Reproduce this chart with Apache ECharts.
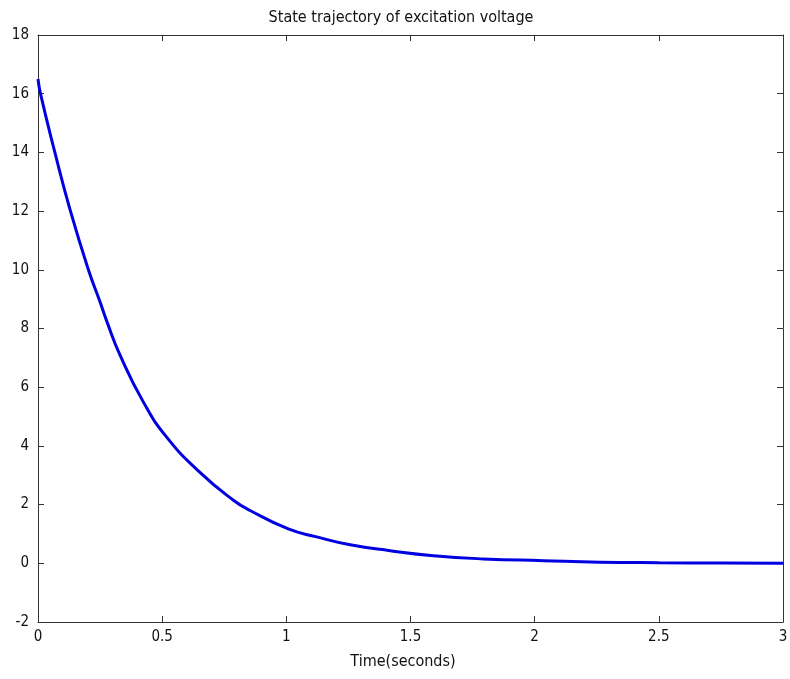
<!DOCTYPE html>
<html>
<head>
<meta charset="utf-8">
<script src="https://cdn.jsdelivr.net/npm/echarts@6/dist/echarts.min.js"></script>
<style>
  html, body { margin: 0; padding: 0; background: #fff; }
  #chart { width: 790px; height: 679px; }
</style>
</head>
<body>
<div id="chart"></div>
<script>
var titleText = 'State trajectory of excitation voltage';
var xName = 'Time(seconds)';

// time (s) and excitation voltage
var timeValues = [0, 0.01, 0.068, 0.129, 0.203, 0.25, 0.279, 0.33, 0.424, 0.518, 0.652, 0.787,
    0.854, 1.008, 1.122, 1.257, 1.418, 1.592, 1.793, 2.035, 2.263, 2.5, 2.75, 3.0];
var voltValues = [16.5, 16.0, 14.0, 12.05, 10.0, 8.9, 8.2, 7.1, 5.5, 4.3, 3.1, 2.15,
    1.8, 1.17, 0.9, 0.63, 0.43, 0.26, 0.15, 0.09, 0.04, 0.02, 0.01, 0.0];

var xTicks = [0, 0.5, 1, 1.5, 2, 2.5, 3];
var yTicks = [-2, 0, 2, 4, 6, 8, 10, 12, 14, 16, 18];

var dom = document.getElementById('chart');
var myChart = echarts.init(dom, null, { renderer: 'canvas' });

var font = "'DejaVu Sans Condensed', 'Liberation Sans Narrow', sans-serif";
var axisColor = '#333';

var seriesData = timeValues.map(function (t, i) {
    return [t, voltValues[i]];
});

function xAxisCfg(showLabel, pos) {
    return {
        type: 'value',
        position: pos,
        min: xTicks[0],
        max: xTicks[xTicks.length - 1],
        interval: 0.5,
        axisLine: { show: true, onZero: false, lineStyle: { color: axisColor, width: 1 } },
        axisTick: { show: true, inside: true, length: 6, lineStyle: { color: axisColor } },
        axisLabel: {
            show: showLabel,
            color: '#111',
            fontFamily: font,
            fontSize: 15,
            margin: 8,
            formatter: function (v) { return String(v); }
        },
        splitLine: { show: false }
    };
}

function yAxisCfg(showLabel, pos) {
    return {
        type: 'value',
        position: pos,
        min: yTicks[0],
        max: yTicks[yTicks.length - 1],
        interval: 2,
        axisLine: { show: true, onZero: false, lineStyle: { color: axisColor, width: 1 } },
        axisTick: { show: true, inside: true, length: 6, lineStyle: { color: axisColor } },
        axisLabel: {
            show: showLabel,
            color: '#111',
            fontFamily: font,
            fontSize: 15,
            margin: 9
        },
        splitLine: { show: false }
    };
}

var option = {
    backgroundColor: '#fff',
    animation: false,
    title: {
        text: titleText,
        left: 396,
        top: 5,
        textAlign: 'center',
        textStyle: { fontFamily: font, fontSize: 16, fontWeight: 'normal', color: '#111' }
    },
    graphic: [{
        type: 'text',
        x: 403,
        y: 662,
        style: {
            text: xName,
            fontFamily: font,
            fontSize: 16,
            fill: '#111',
            align: 'center',
            verticalAlign: 'middle'
        }
    }],
    grid: {
        left: 38,
        top: 35,
        right: 7,
        bottom: 57,
        outerBoundsMode: 'none'
    },
    xAxis: [xAxisCfg(true, 'bottom'), xAxisCfg(false, 'top')],
    yAxis: [yAxisCfg(true, 'left'), yAxisCfg(false, 'right')],
    series: [{
        type: 'line',
        xAxisIndex: 0,
        yAxisIndex: 0,
        data: seriesData,
        showSymbol: false,
        smooth: 0.5,
        lineStyle: { color: '#0000e0', width: 3 },
        itemStyle: { color: '#0000e0' }
    }]
};

myChart.setOption(option);
window.addEventListener('resize', myChart.resize);
</script>
</body>
</html>
